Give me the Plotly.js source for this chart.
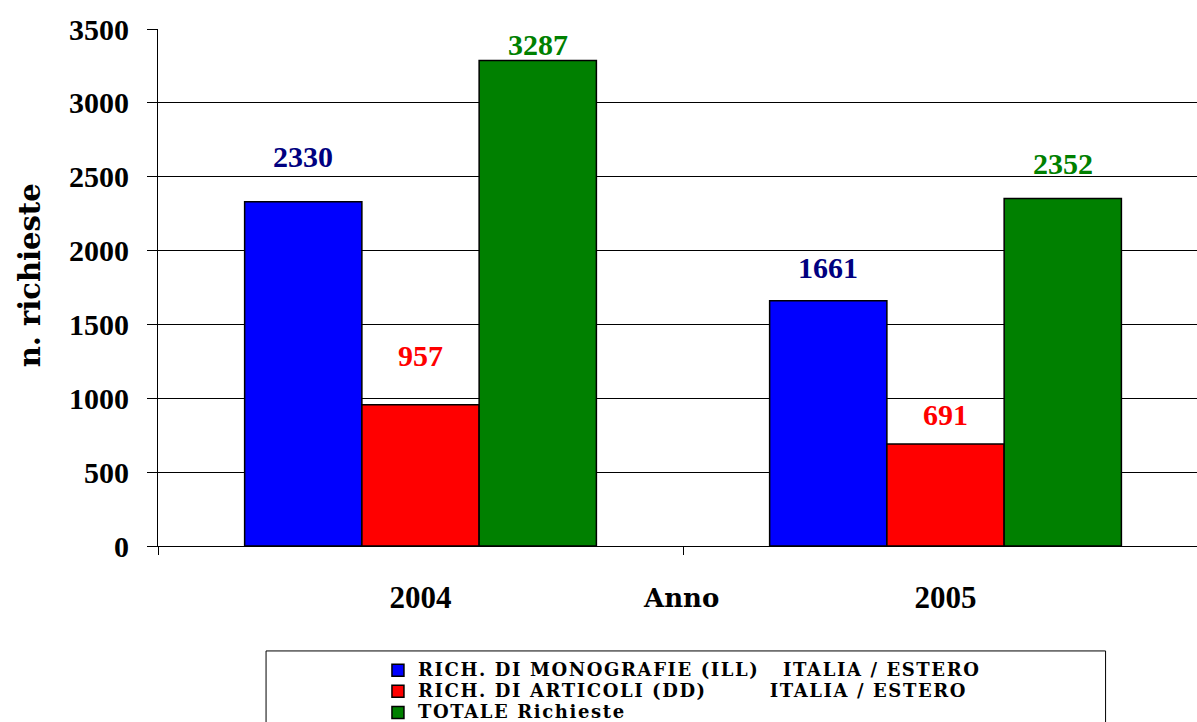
<!DOCTYPE html>
<html>
<head>
<meta charset="utf-8">
<script src="https://cdn.plot.ly/plotly-3.0.1.min.js"></script>
<style>html,body{margin:0;padding:0;background:#fff;}#chart{width:1197px;height:722px;}</style>
</head>
<body>
<div id="chart"></div>
<script>
// ---- data ----
var years = ['2004', '2005'];
var monografie = [2330, 1661];
var articoli = [957, 691];
var totale = [3287, 2352];
var seriesNames = [
  'RICH. DI MONOGRAFIE (ILL)' + '\u00a0'.repeat(3) + 'ITALIA / ESTERO',
  'RICH. DI ARTICOLI (DD)' + '\u00a0'.repeat(8) + 'ITALIA / ESTERO',
  'TOTALE Richieste'
];
var yTicks = [0, 500, 1000, 1500, 2000, 2500, 3000, 3500];

// ---- styles ----
var barColors = ['#0000FF', '#FF0000', '#008000'];
var labelColors = ['#000080', '#FF0000', '#008000'];
var labelLift = [[45, 33], [49, 29], [16, 35]];
var serif = 'Liberation Serif, Times New Roman, serif';
var wideSerif = 'DejaVu Serif, serif';
var bargap = 0.33;

var seriesValues = [monografie, articoli, totale];

var traces = seriesValues.map(function (vals, i) {
  return {
    type: 'bar',
    x: years,
    y: vals,
    name: '<span style="font-size:18px;font-weight:bold;letter-spacing:1.6px">' + seriesNames[i] + '</span>',
    marker: { color: barColors[i], line: { color: '#000', width: 1.5 } },
    hoverinfo: 'y'
  };
});

var annotations = [];
var w = (1 - bargap) / seriesValues.length;
seriesValues.forEach(function (vals, i) {
  vals.forEach(function (v, k) {
    annotations.push({
      xref: 'x', yref: 'y',
      x: k + (i - (seriesValues.length - 1) / 2) * w,
      y: v,
      yshift: labelLift[i][k],
      yanchor: 'middle',
      text: String(v),
      showarrow: false,
      font: { family: serif, size: 30, color: labelColors[i], weight: 'bold' }
    });
  });
});

annotations.push({
  xref: 'paper', yref: 'paper', x: -0.123, y: 0.524,
  text: 'n. richieste', textangle: -90, showarrow: false,
  xanchor: 'center', yanchor: 'middle',
  font: { family: wideSerif, size: 29, color: '#000', weight: 'bold' }
});
annotations.push({
  xref: 'paper', yref: 'paper', x: 0.503, y: -0.1,
  text: 'Anno', showarrow: false,
  xanchor: 'center', yanchor: 'middle',
  font: { family: wideSerif, size: 26, color: '#000', weight: 'bold' }
});

var layout = {
  width: 1197,
  height: 722,
  margin: { l: 158, r: 0, t: 29, b: 176, autoexpand: false },
  paper_bgcolor: '#fff',
  plot_bgcolor: '#fff',
  barmode: 'group',
  bargap: bargap,
  bargroupgap: 0,
  showlegend: true,
  legend: {
    x: 0.2117, y: -0.21, xanchor: 'left', yanchor: 'top',
    orientation: 'v',
    bgcolor: 'rgba(0,0,0,0)',
    borderwidth: 0,
    font: { family: wideSerif, size: 14, color: '#000' },
    traceorder: 'normal'
  },
  xaxis: {
    type: 'category',
    range: [-0.5, 1.479],
    showgrid: false,
    showline: true,
    linecolor: '#000',
    linewidth: 1,
    ticks: 'outside',
    tickson: 'boundaries',
    ticklen: 8,
    tickcolor: '#000',
    ticklabelstandoff: 24,
    tickfont: { family: serif, size: 31, color: '#000', weight: 'bold' },
    zeroline: false,
    fixedrange: true
  },
  yaxis: {
    range: [0, 3500],
    tickvals: yTicks,
    ticktext: yTicks.map(String),
    showgrid: true,
    gridcolor: '#000',
    gridwidth: 1,
    showline: true,
    linecolor: '#000',
    linewidth: 1,
    ticks: 'outside',
    ticklen: 10,
    tickcolor: '#000',
    ticklabelstandoff: 12,
    tickfont: { family: serif, size: 30, color: '#000', weight: 'bold' },
    zeroline: false,
    fixedrange: true
  },
  shapes: [{
    type: 'rect', xref: 'paper', yref: 'paper',
    x0: 0.104, x1: 0.912, y0: -0.203, y1: -0.5,
    line: { color: '#000', width: 1 },
    fillcolor: 'rgba(0,0,0,0)',
    layer: 'below'
  }],
  annotations: annotations
};

Plotly.newPlot('chart', traces, layout, { displayModeBar: false, staticPlot: true });
</script>
</body>
</html>
